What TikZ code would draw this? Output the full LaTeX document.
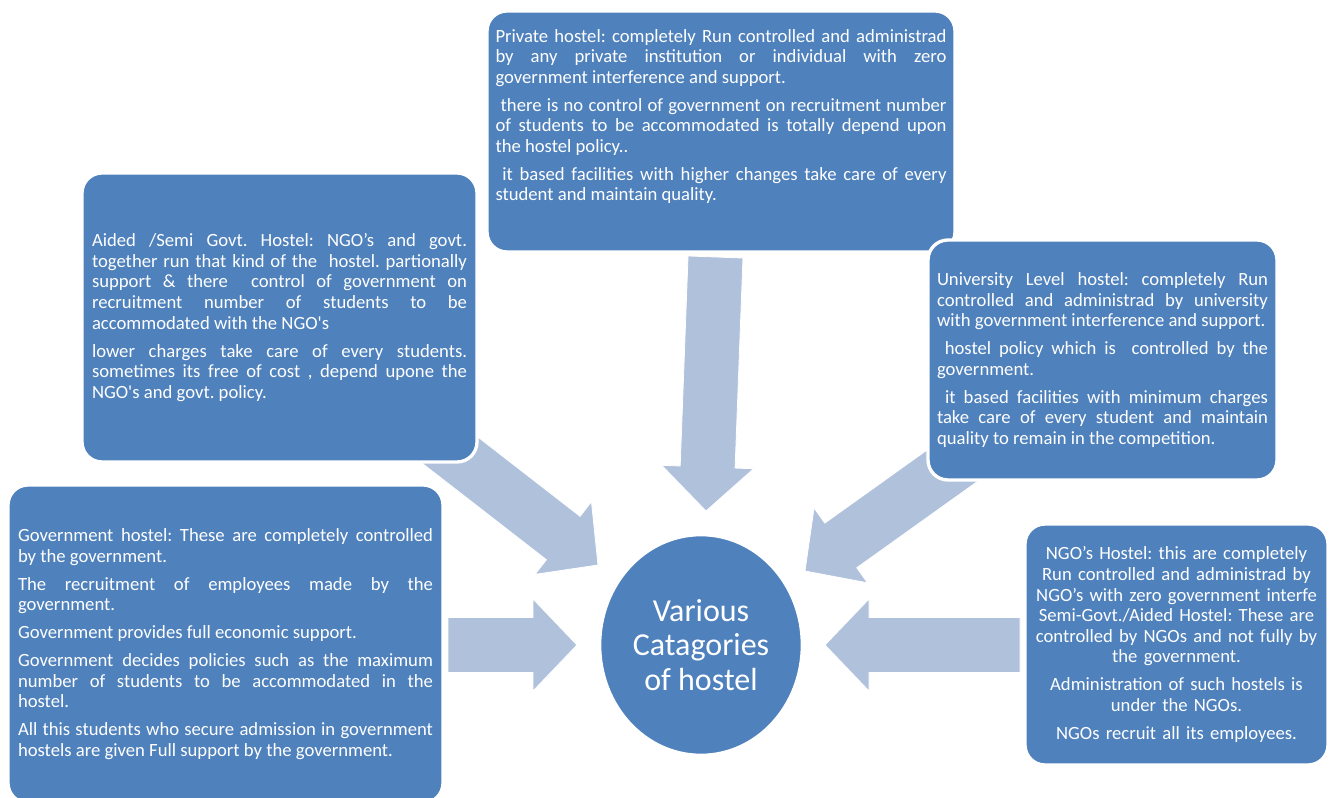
\documentclass[tikz,border=0pt]{standalone}
\usepackage{fontspec}
\setmainfont{Carlito}[Ligatures=TeXOff]
\usetikzlibrary{calc,shapes.geometric}
\definecolor{boxblue}{HTML}{4F81BD}
\definecolor{arrowblue}{HTML}{B0C1DC}
\tolerance=10000 \hyphenpenalty=10000 \exhyphenpenalty=10000
\setlength{\parindent}{0pt}
\frenchspacing
\newcommand\pgap{\par\vspace{5.6pt}}
\newcommand\blockarrow[2]{%
  \path ($(#2)!33pt!(#1)$) coordinate (hb);
  \filldraw[arrowstyle] ($(#1)!20.6pt!90:(#2)$) -- ($(hb)!20.6pt!90:(#2)$) -- ($(hb)!34.5pt!90:(#2)$) -- (#2) -- ($(hb)!34.5pt!-90:(#2)$) -- ($(hb)!20.6pt!-90:(#2)$) -- ($(#1)!20.6pt!-90:(#2)$) -- cycle;}
\begin{document}
\begin{tikzpicture}[x=0.75pt,y=-0.75pt,
  bodyfont/.style={font=\fontsize{14pt}{15.4pt}\selectfont\frenchspacing},
  hbox/.style={rectangle, rounded corners=15pt, fill=boxblue, draw=white, line width=2.5pt, text=white, inner sep=0pt, bodyfont},
  plaintext/.style={text=white, inner sep=0pt, bodyfont},
  arrowstyle/.style={fill=arrowblue, draw=white, line width=0.6pt}]
\useasboundingbox (0,0) rectangle (1329,798);
\fill[white] (0,0) rectangle (1329,798);
% arrow end points
\coordinate (t-tail) at (715.5,257); \coordinate (t-tip) at (706,511);
\coordinate (ul-tail) at (397,409); \coordinate (ul-tip) at (598,565);
\coordinate (ur-tail) at (1012,423); \coordinate (ur-tip) at (805,571);
\coordinate (l-tail) at (448,645); \coordinate (l-tip) at (577,645);
\coordinate (r-tail) at (1020,645); \coordinate (r-tip) at (825,645);
\blockarrow{t-tail}{t-tip}
\blockarrow{ul-tail}{ul-tip}
\blockarrow{ur-tail}{ur-tip}
\blockarrow{l-tail}{l-tip}
\blockarrow{r-tail}{r-tip}
% boxes
\node[hbox, minimum width=296.25pt, minimum height=216.75pt, text width=281.25pt, align=justify] (aided) at (279.5,317.5) {Aided /Semi Govt. Hostel: NGO’s and govt. \linebreak together run that kind of the\ \ hostel. partionally \linebreak support \& there\ \ control of government on \linebreak recruitment number of students to be \linebreak accommodated with the NGO's\pgap
lower charges take care of every students. \linebreak sometimes its free of cost , depend upone the \linebreak NGO's and govt. policy.};
\node[hbox, minimum width=326.25pt, minimum height=238.5pt, text width=311.25pt, align=justify] (govt) at (225.5,644) {Government hostel: These are completely controlled \linebreak by the government.\pgap
The recruitment of employees made by the \linebreak government.\pgap
Government provides full economic support.\pgap
Government decides policies such as the maximum \linebreak number of students to be accommodated in the \linebreak hostel.\pgap
All this students who secure admission in government \linebreak hostels are given Full support by the government.};
\node[hbox, minimum width=351pt, minimum height=180.75pt] (private) at (721,131.5) {};
\node[plaintext, text width=338.25pt, align=justify, anchor=north] (privtext) at (721,29) {Private hostel: completely Run controlled and administrad \linebreak by any private institution or individual with zero \linebreak government interference and support.\pgap
\ there is no control of government on recruitment number \linebreak of students to be accommodated is totally depend upon \linebreak the hostel policy..\pgap
\ it based facilities with higher changes take care of every \linebreak student and maintain quality.};
\node[hbox, minimum width=261.75pt, minimum height=180pt, text width=248.25pt, align=justify] (univ) at (1102.5,360) {University Level hostel: completely Run \linebreak controlled and administrad by university \linebreak with government interference and support.\pgap
\ hostel policy which is\ \ controlled by the \linebreak government.\pgap
\ it based facilities with minimum charges \linebreak take care of every student and maintain \linebreak quality to remain in the competition.};
\node[hbox, minimum width=227.25pt, minimum height=180.75pt, text width=222pt, align=center] (ngo) at (1176.5,644.5) {NGO’s Hostel: this are completely\\ Run controlled and administrad by\\ NGO’s with zero government interfe\\ Semi-Govt./Aided Hostel: These are\\ controlled by NGOs and not fully by\\ the government.\pgap
Administration of such hostels is\\ under the NGOs.\pgap
NGOs recruit all its employees.};
\node[ellipse, fill=boxblue, draw=white, line width=2pt, minimum width=151.5pt, minimum height=165pt, inner sep=0pt, text=white, align=center, font=\fontsize{24pt}{26pt}\selectfont] (center) at (701,645) {Various\\Catagories\\of hostel};
\end{tikzpicture}
\end{document}
